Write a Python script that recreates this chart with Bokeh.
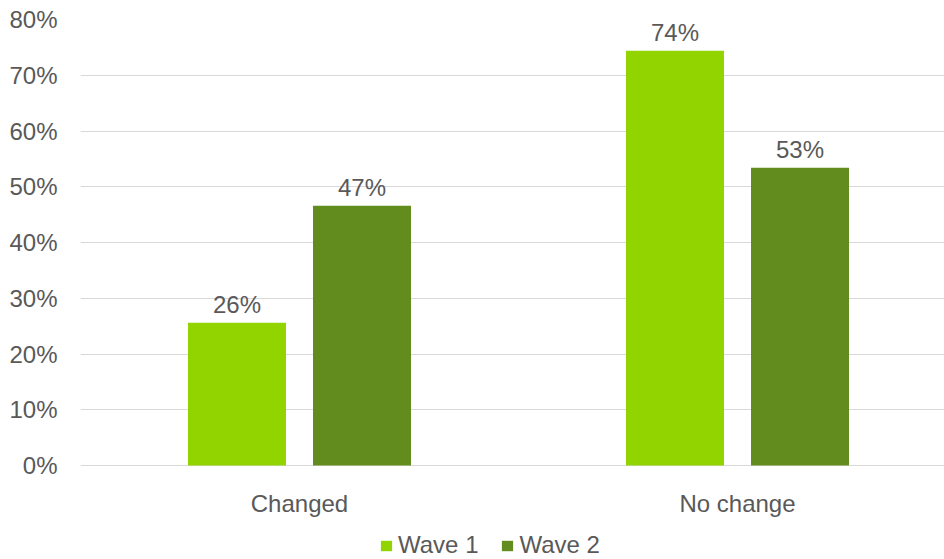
from bokeh.plotting import figure
from bokeh.models import (ColumnDataSource, Range1d, FixedTicker, Legend, LegendItem,
                          CustomJSTickFormatter)
from bokeh.core.properties import value
from bokeh.embed import file_html
from bokeh.resources import INLINE

categories = ["Changed", "No change"]
series = ["Wave 1", "Wave 2"]
wave1 = [25.6, 74.4]
wave2 = [46.6, 53.4]
colors = ["#92D400", "#628C1E"]
y_ticks = [0, 10, 20, 30, 40, 50, 60, 70, 80]

TEXT = "#595959"
FONT = "Liberation Sans"
SIZE = "24px"

# the frame runs down to the bottom edge so that category names and the
# legend can sit underneath the zero line
p = figure(width=944, height=559, output_backend="svg", toolbar_location=None,
           x_range=Range1d(-0.5, 1.4726), y_range=Range1d(-16.86, 80),
           min_border_left=80, min_border_right=0, min_border_top=19,
           min_border_bottom=0)
p.outline_line_color = None
p.background_fill_color = "white"
p.border_fill_color = "white"

xs = list(range(len(categories)))
offset = 0.1427
width = 0.2237
renderers = []
for i, (name, vals, col) in enumerate(zip(series, [wave1, wave2], colors)):
    sx = [x + (offset if i else -offset) for x in xs]
    src = ColumnDataSource(dict(x=sx, top=vals, label=[f"{round(v)}%" for v in vals]))
    r = p.vbar(x="x", top="top", width=width, bottom=0, source=src,
               fill_color=col, line_color=None)
    renderers.append(r)
    p.text(x="x", y="top", text="label", source=src, text_align="center",
           text_baseline="alphabetic", y_offset=-18, text_color=TEXT,
           text_font=value(FONT), text_font_size=SIZE)

# category names under the zero line
cat_src = ColumnDataSource(dict(x=xs, y=[0] * len(xs), name=categories))
p.text(x="x", y="y", text="name", source=cat_src, text_align="center",
       text_baseline="alphabetic", y_offset=38, text_color=TEXT,
       text_font=value(FONT), text_font_size=SIZE)

# y axis
p.yaxis.ticker = FixedTicker(ticks=y_ticks)
p.yaxis.formatter = CustomJSTickFormatter(code="return tick + '%';")
p.yaxis.axis_line_color = None
p.yaxis.major_tick_line_color = None
p.yaxis.major_tick_out = 0
p.yaxis.minor_tick_line_color = None
p.yaxis.major_label_text_color = TEXT
p.yaxis.major_label_text_font = FONT
p.yaxis.major_label_text_font_size = SIZE
p.yaxis.major_label_standoff = 23

p.xaxis.visible = False
p.xgrid.grid_line_color = None
p.ygrid.grid_line_color = "#D9D9D9"
p.ygrid.grid_line_width = 1
p.ygrid.ticker = FixedTicker(ticks=y_ticks)

legend = Legend(items=[LegendItem(label=s, renderers=[r]) for s, r in zip(series, renderers)],
                orientation="horizontal", location=(299, 0),
                glyph_width=14, glyph_height=13, label_standoff=5, spacing=22,
                padding=0, margin=0, background_fill_alpha=0, border_line_color=None,
                label_text_color=TEXT, label_text_font=FONT, label_text_font_size=SIZE)
p.add_layout(legend)

open("out.html", "w").write(file_html(p, INLINE))
